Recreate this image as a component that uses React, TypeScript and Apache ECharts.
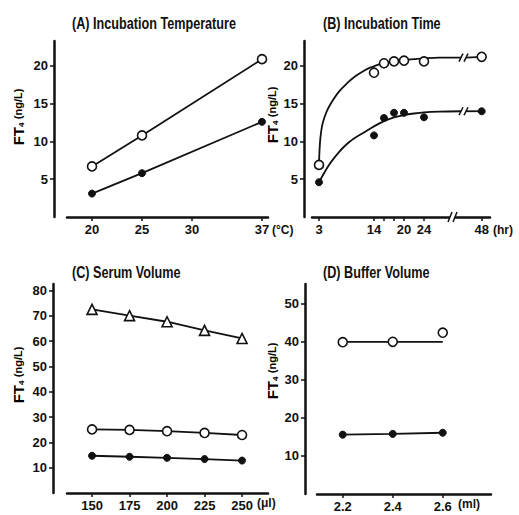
import React, { useEffect, useRef } from "react";
import * as echarts from "echarts";

// ---------- data ----------
const aTemps = [20, 25, 37];
const aOpen = [6.7, 10.8, 20.9];
const aFilled = [3.1, 5.8, 12.6];
const aTicks = [20, 25, 30, 37];

const bHours = [3, 14, 16, 18, 20, 24, 48];
const bOpen = [6.9, 19.1, 20.35, 20.6, 20.7, 20.6, 21.2];
const bFilled = [4.6, 10.8, 13.1, 13.8, 13.8, 13.2, 14.0];
const bOpenCurveHours = [3, 3.1, 3.3, 3.6, 4, 4.5, 5, 6, 7, 8, 9, 10, 11, 12, 13, 14, 15, 16, 18, 20, 22, 24, 27, 31.4];
const bOpenCurve = [6.9, 8.8, 10.6, 12.0, 13.0, 13.9, 14.6, 15.7, 16.6, 17.3, 17.95, 18.5, 18.95, 19.35, 19.7, 19.95, 20.2, 20.4, 20.65, 20.8, 20.9, 21.0, 21.1, 21.1];
const bFilledCurveHours = [3, 4, 5, 6, 7, 8, 9, 10, 12, 14, 16, 18, 20, 22, 24, 27, 31.4];
const bFilledCurve = [4.6, 5.8, 6.9, 7.8, 8.6, 9.3, 9.9, 10.4, 11.2, 12.0, 12.7, 13.2, 13.5, 13.7, 13.85, 13.95, 14.0];
const bOpenTail = [21.1, 21.2];
const bFilledTail = [14.0, 14.0];
const bLabelHours = [3, 14, 20, 24, 48];
const bTickHours = [3, 14, 16, 18, 20, 24, 48];

const cVolumes = [150, 175, 200, 225, 250];
const cTriangle = [72.5, 70.0, 67.6, 64.2, 61.0];
const cOpen = [25.1, 24.9, 24.4, 23.7, 22.9];
const cFilled = [14.7, 14.3, 13.9, 13.4, 12.8];

const dVolumes = [2.2, 2.4, 2.6];
const dOpen = [39.9, 40.0, 42.4];
const dOpenFit = [40.0, 40.0];
const dFilled = [15.6, 15.8, 16.1];

// broken time axis (panel B)
const POS_48 = 35.54;
const AXIS_BREAK = [29.2, 30.2];
const CURVE_BREAK = [31.4, 32.4];
const bx = (h: number) => (h > 32 ? POS_48 - (48 - h) * 0.2 : h);

const FONT = "'Liberation Sans', Arial, sans-serif";
const INK = "#111";

const openSym = { color: "#fff", borderColor: INK, borderWidth: 1.6, opacity: 1 };
const fillSym = { color: INK, borderColor: INK, borderWidth: 1, opacity: 1 };

export default function App() {
  const ref = useRef<HTMLDivElement>(null);
  useEffect(() => {
    if (!ref.current) return;
    const chart = echarts.init(ref.current, undefined, { renderer: "svg" });

    const axisLine = { show: true, lineStyle: { color: INK, width: 2.5 } };
    const tick = (vals: number[]) => ({
      show: true,
      length: 4,
      lineStyle: { color: INK, width: 1.5 },
      customValues: vals,
    });
    const lbl = (vals: number[], margin: number, fmt?: (v: number) => string) => ({
      show: true,
      customValues: vals,
      margin,
      color: INK,
      fontFamily: FONT,
      fontWeight: "bold" as const,
      fontSize: 13,
      formatter: fmt,
    });

    const grids = [
      { left: 67, top: 41, width: 201, height: 176 },
      { left: 312, top: 41, width: 178, height: 176 },
      { left: 67, top: 284, width: 201, height: 209 },
      { left: 317, top: 284, width: 174, height: 210 },
    ];

    const xAxes = [
      { gridIndex: 0, min: 17.5, max: 37.6, ticks: aTicks, labels: aTicks, fmt: undefined },
      {
        gridIndex: 1,
        min: 1.6,
        max: 37.2,
        ticks: bTickHours.map(bx),
        labels: bLabelHours.map(bx),
        fmt: (v: number) => (Math.abs(v - POS_48) < 0.01 ? "48" : String(Math.round(v))),
      },
      { gridIndex: 2, min: 133.3, max: 267.3, ticks: cVolumes, labels: cVolumes, fmt: undefined },
      {
        gridIndex: 3,
        min: 2.097,
        max: 2.793,
        ticks: dVolumes,
        labels: dVolumes,
        fmt: (v: number) => v.toFixed(1),
      },
    ].map((x) => ({
      type: "value",
      gridIndex: x.gridIndex,
      min: x.min,
      max: x.max,
      splitLine: { show: false },
      axisLine,
      axisTick: tick(x.ticks),
      axisLabel: lbl(x.labels, 6, x.fmt),
    }));

    const yAxes = [
      { gridIndex: 0, max: 23.3, vals: [5, 10, 15, 20], offset: 13 },
      { gridIndex: 1, max: 23.3, vals: [5, 10, 15, 20], offset: 8 },
      { gridIndex: 2, max: 82.5, vals: [10, 20, 30, 40, 50, 60, 70, 80], offset: 14 },
      { gridIndex: 3, max: 55.2, vals: [10, 20, 30, 40, 50], offset: 12 },
    ].map((y) => ({
      type: "value",
      gridIndex: y.gridIndex,
      min: 0,
      max: y.max,
      offset: y.offset,
      splitLine: { show: false },
      axisLine,
      axisTick: tick(y.vals),
      axisLabel: lbl(y.vals, 6),
    }));

    const pair = (xs: number[], ys: number[]) => xs.map((x, i) => [x, ys[i]]);

    const lineWithSym = (idx: number, xs: number[], ys: number[], sym: string, style: any, size: number) => ({
      type: "line",
      xAxisIndex: idx,
      yAxisIndex: idx,
      data: pair(xs, ys),
      symbol: sym,
      symbolSize: size,
      showSymbol: true,
      lineStyle: { color: INK, width: 1.8 },
      itemStyle: style,
      z: 3,
    });
    const plainLine = (idx: number, data: number[][], smooth = false) => ({
      type: "line",
      xAxisIndex: idx,
      yAxisIndex: idx,
      data,
      symbol: "none",
      smooth: smooth ? 0.3 : false,
      lineStyle: { color: INK, width: 1.8 },
      z: 2,
    });
    const scatter = (idx: number, data: number[][], style: any, size: number) => ({
      type: "scatter",
      xAxisIndex: idx,
      yAxisIndex: idx,
      data,
      symbol: "circle",
      symbolSize: size,
      itemStyle: style,
      z: 4,
    });

    const series = [
      // A
      lineWithSym(0, aTemps, aOpen, "circle", openSym, 9),
      lineWithSym(0, aTemps, aFilled, "circle", fillSym, 7),
      // B curves
      plainLine(1, pair(bOpenCurveHours, bOpenCurve), true),
      plainLine(1, pair(bFilledCurveHours, bFilledCurve), true),
      plainLine(1, [[CURVE_BREAK[1], bOpenTail[0]], [bx(48), bOpenTail[1]]]),
      plainLine(1, [[CURVE_BREAK[1], bFilledTail[0]], [bx(48), bFilledTail[1]]]),
      scatter(1, pair(bHours.map(bx), bOpen), openSym, 9),
      scatter(1, pair(bHours.map(bx), bFilled), fillSym, 7),
      // C
      lineWithSym(2, cVolumes, cTriangle, "triangle", openSym, 10),
      lineWithSym(2, cVolumes, cOpen, "circle", openSym, 9),
      lineWithSym(2, cVolumes, cFilled, "circle", fillSym, 7),
      // D
      plainLine(3, pair([dVolumes[0], dVolumes[2]], dOpenFit)),
      scatter(3, pair(dVolumes, dOpen), openSym, 9),
      lineWithSym(3, dVolumes, dFilled, "circle", fillSym, 7),
    ];

    chart.setOption({
      animation: false,
      backgroundColor: "#fff",
      grid: grids.map((g) => ({ ...g, containLabel: false })),
      xAxis: xAxes,
      yAxis: yAxes,
      series,
    });

    const px = (gi: number, x: number, y: number) =>
      chart.convertToPixel({ gridIndex: gi }, [x, y]) as number[];

    const title = (text: string, x: number, y: number) => ({
      type: "text",
      x,
      y,
      scaleX: 0.79,
      style: { text, fill: INK, font: `bold 16px ${FONT}`, align: "left", verticalAlign: "middle" },
    });
    const unit = (text: string, x: number, y: number) => ({
      type: "text",
      x,
      y,
      style: { text, fill: INK, font: `bold 12px ${FONT}`, align: "left", verticalAlign: "middle" },
    });
    const yName = (x: number, y: number) => ({
      type: "text",
      x,
      y,
      rotation: Math.PI / 2,
      style: {
        text: "{a|FT}{b|4} {c|(ng/L)}",
        align: "center",
        verticalAlign: "middle",
        rich: {
          a: { fontFamily: FONT, fontWeight: "bold", fontSize: 15, color: INK },
          b: { fontFamily: FONT, fontWeight: "bold", fontSize: 8, color: INK, padding: [6, 0, 0, 0] },
          c: { fontFamily: FONT, fontWeight: "bold", fontSize: 11, color: INK },
        },
      },
    });

    const slash = (x: number, y: number, h: number) => ({
      type: "line",
      shape: { x1: x - 2, y1: y + h, x2: x + 2, y2: y - h },
      style: { stroke: INK, lineWidth: 1.5 },
      z: 100,
    });

    const axisY = px(1, 0, 0)[1];
    const ab0 = px(1, AXIS_BREAK[0], 0)[0];
    const ab1 = px(1, AXIS_BREAK[1], 0)[0];
    const breakEls: any[] = [
      {
        type: "rect",
        shape: { x: ab0, y: axisY - 3, width: ab1 - ab0, height: 6 },
        style: { fill: "#fff" },
        z: 99,
      },
      slash(ab0, axisY, 5),
      slash(ab1, axisY, 5),
    ];
    [bOpenTail[0], bFilledTail[0]].forEach((v) => {
      const p0 = px(1, CURVE_BREAK[0], v);
      const p1 = px(1, CURVE_BREAK[1], v);
      breakEls.push(slash(p0[0], p0[1], 4), slash(p1[0], p1[1], 4));
    });

    chart.setOption({
      graphic: [
        title("(A) Incubation Temperature", 72, 23),
        title("(B) Incubation Time", 323, 23),
        title("(C) Serum Volume", 72, 272),
        title("(D) Buffer Volume", 323, 272),
        unit("(°C)", 272, 230),
        unit("(hr)", 493, 230),
        unit("(μl)", 257, 503),
        unit("(ml)", 458, 504),
        yName(18, 117),
        yName(272, 115),
        yName(18, 375),
        yName(272, 371),
        ...breakEls,
      ],
    });

    return () => chart.dispose();
  }, []);

  return (
    <div
      ref={ref}
      style={{ position: "fixed", left: 0, top: 0, width: 519, height: 515, background: "#fff" }}
    />
  );
}
